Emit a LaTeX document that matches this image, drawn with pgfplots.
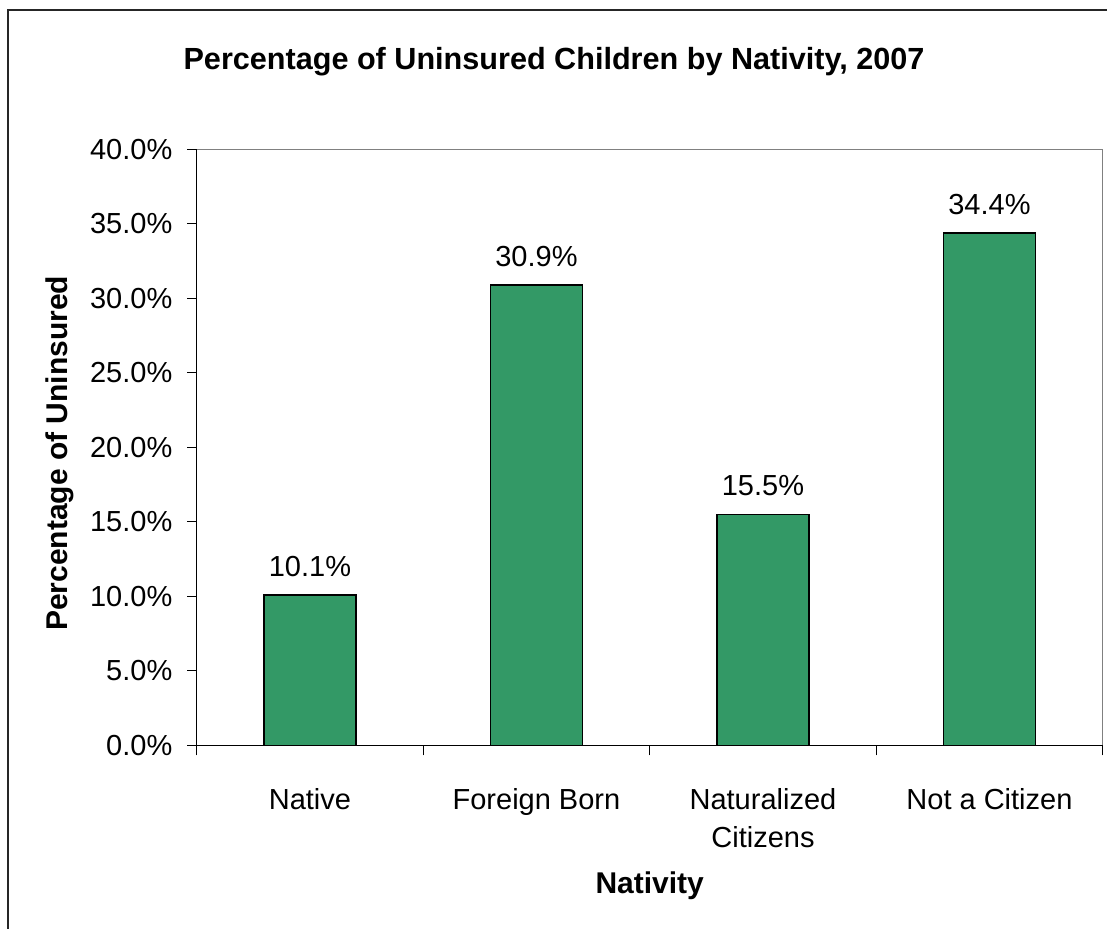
\documentclass[border=0pt]{standalone}
\usepackage{fontspec}
\setmainfont{Liberation Sans}
\usepackage{pgfplots}
\pgfplotsset{compat=1.18}
\definecolor{bargreen}{HTML}{339966}
\begin{document}
\begin{tikzpicture}[x=1pt,y=1pt]
\useasboundingbox (0,0) rectangle (553.5,464);
\draw[line width=0.8pt, black!85] (4,-10) -- (4,459) -- (570,459);
\begin{axis}[
  at={(98.35pt,91.35pt)}, anchor=south west,
  scale only axis, width=453pt, height=298pt,
  xmin=-0.5, xmax=3.5, ymin=0, ymax=40,
  ybar, bar width=46pt,
  axis line style={draw=gray, line width=0.7pt},
  /pgf/number format/assume math mode=true,
  ytick={0,5,10,15,20,25,30,35,40},
  yticklabel={\pgfmathprintnumber[fixed,fixed zerofill,precision=1]{\tick}\%},
  yticklabel style={font=\fontsize{14.5}{17}\selectfont, anchor=east, inner sep=0pt, xshift=-7.3pt},
  ytick pos=left, tick align=outside, major tick length=4.7pt,
  ytick style={draw=black, line width=0.6pt},
  xtick={0,1,2,3},
  xticklabels={Native, Foreign Born, {Naturalized\\Citizens}, Not a Citizen},
  xticklabel style={font=\fontsize{14.5}{19}\selectfont, align=center, anchor=north, inner sep=0pt, yshift=-16.5pt},
  xtick style={draw=none},
  xtick pos=left,
  extra x ticks={-0.5,0.5,1.5,2.5,3.5},
  extra x tick labels={},
  extra x tick style={xtick style={draw=black, line width=0.6pt}, major tick length=5pt, tick align=outside},
  nodes near coords={\pgfmathprintnumber[fixed,fixed zerofill,precision=1]{\pgfplotspointmeta}\%},
  nodes near coords style={font=\fontsize{14.5}{17}\selectfont, anchor=base, inner sep=0pt, yshift=9.3pt, text=black},
  clip=false,
]
\addplot[fill=bargreen, draw=black, line width=0.8pt] coordinates {(0,10.1) (1,30.9) (2,15.5) (3,34.4)};
\draw[black, line width=0.7pt] (rel axis cs:0,1) -- (rel axis cs:0,0) -- (rel axis cs:1,0);
\end{axis}
\node[anchor=base, inner sep=0pt, font=\fontsize{15.3}{18}\selectfont\bfseries] at (277,429.3) {Percentage of Uninsured Children by Nativity, 2007};
\node[anchor=base, rotate=90, inner sep=0pt, font=\fontsize{15}{18}\selectfont\bfseries] at (33.6,237.3) {Percentage of Uninsured};
\node[anchor=base, inner sep=0pt, font=\fontsize{15}{18}\selectfont\bfseries] at (324.85,17.5) {Nativity};
\end{tikzpicture}
\end{document}
